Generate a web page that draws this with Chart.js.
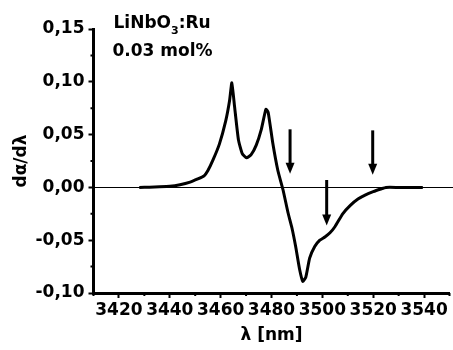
<!DOCTYPE html>
<html>
<head>
<meta charset="utf-8">
<script src="https://cdn.jsdelivr.net/npm/chart.js@4.4.1/dist/chart.umd.min.js"></script>
<style>
  html, body { margin: 0; padding: 0; background: #fff; }
  #contenedor { width: 453px; height: 350px; }
</style>
</head>
<body>
<div id="contenedor"><canvas id="myChart" width="453" height="350"></canvas></div>
<script>
const longitudes = [3428, 3432, 3436, 3440, 3444, 3448, 3451, 3453.5, 3455, 3457, 3459.5, 3462, 3463.5, 3464.4,
  3465.5, 3467, 3468.5, 3470.2, 3472, 3474, 3476, 3477.8, 3478.7, 3480.5, 3482.5, 3484.5, 3486.5, 3488,
  3489.5, 3491, 3492.3, 3493.5, 3495, 3497, 3499, 3501, 3503, 3505, 3508, 3511, 3514, 3517, 3520, 3523,
  3525, 3530, 3535, 3539.5];
const derivada = [0.000, 0.0002, 0.0005, 0.001, 0.0025, 0.005, 0.008, 0.011, 0.016, 0.026, 0.041, 0.063, 0.082, 0.099,
  0.076, 0.045, 0.032, 0.028, 0.031, 0.040, 0.055, 0.074, 0.071, 0.042, 0.016, -0.002, -0.024, -0.038,
  -0.056, -0.077, -0.089, -0.085, -0.067, -0.056, -0.050, -0.047, -0.043, -0.037, -0.025, -0.017, -0.011, -0.007, -0.004, -0.0015,
  0.000, 0.000, 0.000, 0.000];

const marcasX = [3420, 3440, 3460, 3480, 3500, 3520, 3540];
const marcasY = [-0.10, -0.05, 0.00, 0.05, 0.10, 0.15];

// flechas: posicion en lambda, valor donde empieza y donde apunta
const flechasX = [3487.3, 3501.7, 3519.8];
const flechasDesde = [0.055, 0.007, 0.054];
const flechasHasta = [0.013, -0.036, 0.012];

const muestra = ['LiNbO', '3', ':Ru'];
const concentracion = '0.03 mol%';

const fuente = '"DejaVu Sans", Arial, sans-serif';

const chart = document.getElementById('myChart');

const esMarca = (lista, v) => lista.some((m) => Math.abs(m - v) < 1e-6);

const formatoY = (v) => {
  if (!esMarca(marcasY, v)) return '';
  const r = Math.round(v * 100) / 100;
  return (r === 0 ? '0.00' : r.toFixed(2)).replace('.', ',');
};

const lineaCero = {
  id: 'lineaCero',
  beforeDatasetsDraw: (c) => {
    const ctx = c.ctx;
    const y = Math.round(c.scales.y.getPixelForValue(0)) + 0.5;
    ctx.save();
    ctx.strokeStyle = '#000';
    ctx.lineWidth = 1;
    ctx.beginPath();
    ctx.moveTo(c.chartArea.left, y);
    ctx.lineTo(c.width, y);
    ctx.stroke();
    ctx.restore();
  }
};

const marcasMenores = {
  id: 'marcasMenores',
  afterDraw: (c) => {
    const ctx = c.ctx;
    const { x, y } = c.scales;
    ctx.save();
    ctx.strokeStyle = '#000';
    ctx.lineWidth = 2;
    ctx.beginPath();
    x.ticks.forEach((t) => {
      if (esMarca(marcasX, t.value)) return;
      const px = x.getPixelForValue(t.value);
      ctx.moveTo(px, c.chartArea.bottom);
      ctx.lineTo(px, c.chartArea.bottom + 3);
    });
    y.ticks.forEach((t) => {
      if (esMarca(marcasY, t.value)) return;
      const py = y.getPixelForValue(t.value);
      ctx.moveTo(c.chartArea.left, py);
      ctx.lineTo(c.chartArea.left - 3, py);
    });
    ctx.stroke();
    ctx.restore();
  }
};

const flechas = {
  id: 'flechas',
  afterDatasetsDraw: (c) => {
    const ctx = c.ctx;
    const { x, y } = c.scales;
    ctx.save();
    ctx.strokeStyle = '#000';
    ctx.fillStyle = '#000';
    ctx.lineWidth = 3;
    flechasX.forEach((lx, i) => {
      const px = x.getPixelForValue(lx);
      const y1 = y.getPixelForValue(flechasDesde[i]);
      const y2 = y.getPixelForValue(flechasHasta[i]);
      ctx.beginPath();
      ctx.moveTo(px, y1);
      ctx.lineTo(px, y2 - 9);
      ctx.stroke();
      ctx.beginPath();
      ctx.moveTo(px - 4.5, y2 - 11);
      ctx.lineTo(px + 4.5, y2 - 11);
      ctx.lineTo(px, y2);
      ctx.closePath();
      ctx.fill();
    });
    ctx.restore();
  }
};

const rotulo = {
  id: 'rotulo',
  afterDraw: (c) => {
    const ctx = c.ctx;
    const x0 = c.chartArea.left + 20;
    ctx.save();
    ctx.fillStyle = '#000';
    ctx.textBaseline = 'alphabetic';
    ctx.font = `bold 17px ${fuente}`;
    ctx.fillText(muestra[0], x0, 28);
    let ancho = ctx.measureText(muestra[0]).width;
    ctx.font = `bold 11px ${fuente}`;
    ctx.fillText(muestra[1], x0 + ancho, 34);
    ancho += ctx.measureText(muestra[1]).width;
    ctx.font = `bold 17px ${fuente}`;
    ctx.fillText(muestra[2], x0 + ancho, 28);
    ctx.fillText(concentracion, x0 - 1, 56);
    ctx.restore();
  }
};

Chart.defaults.font.family = fuente;
Chart.defaults.font.size = 17;
Chart.defaults.font.weight = 'bold';
Chart.defaults.color = '#000';

const datasets = [
  {
    label: 'LiNbO3:Ru',
    data: longitudes.map((l, i) => ({ x: l, y: derivada[i] })),
    borderColor: '#000',
    borderWidth: 3,
    pointRadius: 0,
    tension: 0.15,
    fill: false
  }
];

const config = {
  type: 'line',
  data: { datasets },
  options: {
    responsive: false,
    animation: false,
    events: [],
    layout: { padding: { top: 29, right: 3.5, bottom: 0, left: 0 } },
    plugins: { legend: { display: false }, tooltip: { enabled: false } },
    scales: {
      x: {
        type: 'linear',
        min: 3410,
        max: 3550,
        afterFit: (s) => { s.height = 57; },
        border: { display: true, color: '#000', width: 3 },
        grid: {
          drawOnChartArea: false,
          drawTicks: true,
          tickLength: 5,
          tickWidth: 2,
          tickColor: (ctx) => (ctx.tick && esMarca(marcasX, ctx.tick.value) ? '#000' : 'rgba(0,0,0,0)')
        },
        ticks: {
          stepSize: 10,
          autoSkip: false,
          maxRotation: 0,
          padding: 2,
          callback: (v) => (esMarca(marcasX, v) ? String(v) : '')
        },
        title: { display: true, text: 'λ [nm]', padding: { top: 0, bottom: 4 } }
      },
      y: {
        min: -0.1,
        max: 0.15,
        afterFit: (s) => { s.width = 93.5; },
        border: { display: true, color: '#000', width: 3 },
        grid: {
          drawOnChartArea: false,
          drawTicks: true,
          tickLength: 5,
          tickWidth: 2,
          tickColor: (ctx) => (ctx.tick && esMarca(marcasY, ctx.tick.value) ? '#000' : 'rgba(0,0,0,0)')
        },
        ticks: {
          stepSize: 0.025,
          autoSkip: false,
          padding: 4,
          callback: formatoY
        },
        title: { display: true, text: 'dα/dλ', padding: { top: 11, bottom: 0 } }
      }
    }
  },
  plugins: [lineaCero, flechas, marcasMenores, rotulo]
};

const myChart = new Chart(chart, config);
</script>
</body>
</html>
